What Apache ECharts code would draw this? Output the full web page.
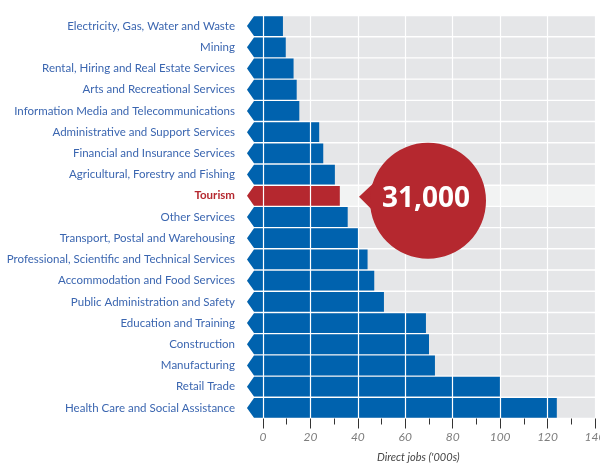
<!DOCTYPE html>
<html>
<head>
<meta charset="utf-8">
<script src="https://cdn.jsdelivr.net/npm/echarts@6/dist/echarts.min.js"></script>
<style>
  html, body { margin: 0; padding: 0; background: #ffffff; }
  #chart { width: 600px; height: 463px; }
</style>
</head>
<body>
<div id="chart"></div>
<script>
// ---- data ----
const categories = [
  'Electricity, Gas, Water and Waste',
  'Mining',
  'Rental, Hiring and Real Estate Services',
  'Arts and Recreational Services',
  'Information Media and Telecommunications',
  'Administrative and Support Services',
  'Financial and Insurance Services',
  'Agricultural, Forestry and Fishing',
  'Tourism',
  'Other Services',
  'Transport, Postal and Warehousing',
  'Professional, Scientific and Technical Services',
  'Accommodation and Food Services',
  'Public Administration and Safety',
  'Education and Training',
  'Construction',
  'Manufacturing',
  'Retail Trade',
  'Health Care and Social Assistance'
];
const values = [8.4, 9.6, 12.9, 14.2, 15.3, 23.7, 25.4, 30.3, 32.4, 35.7, 40.3, 44.1, 46.9, 51.0, 68.7, 70.0, 72.5, 100.0, 123.9];
const highlightCategory = 'Tourism';
const calloutText = '31,000';
const xTicks = [0, 20, 40, 60, 80, 100, 120, 140];
const axisTitle = "Direct jobs ('000s)";

// ---- style ----
const BLUE = '#0062ae';
const RED = '#b5282f';
const GRAY = '#e5e6e8';
const LIGHT = '#f2f3f3';
const LABEL_BLUE = '#3b66b0';
const X_MAX = xTicks[xTicks.length - 1];
const hiIndex = categories.indexOf(highlightCategory);

const chart = echarts.init(document.getElementById('chart'), null, { renderer: 'canvas' });

function renderBar(params, api) {
  const idx = api.value(0);
  const v = api.value(1);
  const p0 = api.coord([0, idx]);
  const pEnd = api.coord([v, idx]);
  const pMax = api.coord([X_MAX, idx]);
  const band = api.size([0, 1])[1];
  const h = band - 1.4;
  const cy = p0[1];
  const top = cy - h / 2, bot = cy + h / 2;
  const left = p0[0] - 9, tip = p0[0] - 16;
  const isHi = idx === hiIndex;
  return {
    type: 'group',
    children: [
      {
        type: 'polygon',
        shape: { points: [[tip, cy], [left, top], [pMax[0], top], [pMax[0], bot], [left, bot]] },
        style: { fill: isHi ? LIGHT : GRAY }
      },
      {
        type: 'polygon',
        shape: { points: [[tip, cy], [left, top], [pEnd[0], top], [pEnd[0], bot], [left, bot]] },
        style: { fill: isHi ? RED : BLUE }
      }
    ]
  };
}

function renderCallout(params, api) {
  const idx = api.value(0);
  const p = api.coord([70, idx]);
  const cx = p[0] - 1, cy = p[1] + 5, r = 58;
  const tipX = cx - 69, tipY = p[1] + 1;
  return {
    type: 'group',
    children: [
      { type: 'polygon', shape: { points: [[tipX, tipY], [cx - 53, cy - 19], [cx - 53, cy + 12]] }, style: { fill: RED } },
      { type: 'circle', shape: { cx: cx, cy: cy, r: r }, style: { fill: RED } },
      {
        type: 'text',
        x: cx - 2, y: cy - 2,
        style: {
          text: calloutText, fill: '#ffffff',
          font: 'bold 28px "Open Sans"',
          align: 'center', verticalAlign: 'middle'
        }
      }
    ]
  };
}

const option = {
  animation: false,
  grid: { left: 263, right: 5, top: 15.5, bottom: 44.5, outerBoundsMode: 'none', containLabel: false },
  xAxis: {
    type: 'value',
    min: 0, max: X_MAX, interval: 20,
    z: 3,
    axisLine: { show: false },
    axisTick: { show: true, length: 10, lineStyle: { color: '#333333', width: 1 } },
    minorTick: { show: true, splitNumber: 2, length: 6, lineStyle: { color: '#333333', width: 1 } },
    splitLine: { show: true, lineStyle: { color: '#ffffff', width: 1.2 } },
    axisLabel: {
      margin: 13, color: '#7d7d7d', fontSize: 12, fontStyle: 'italic',
      fontFamily: 'Lato'
    }
  },
  yAxis: {
    type: 'category',
    data: categories,
    inverse: true,
    axisLine: { show: false },
    axisTick: { show: false },
    splitLine: { show: false },
    axisLabel: {
      margin: 28, color: LABEL_BLUE, fontSize: 11.5, fontFamily: 'Lato',
      formatter: function (v) { return v === highlightCategory ? '{hi|' + v + '}' : v; },
      rich: { hi: { color: RED, fontWeight: 'bold', fontSize: 11.5, fontFamily: 'Lato' } }
    }
  },
  graphic: [
    {
      type: 'text', left: 377, top: 452,
      style: { text: axisTitle, fill: '#444444', font: 'italic 11px Lato' }
    }
  ],
  series: [
    {
      type: 'custom',
      z: 2,
      renderItem: renderBar,
      encode: { x: 1, y: 0 },
      data: values.map((v, i) => [i, v])
    },
    {
      type: 'custom',
      z: 10,
      renderItem: renderCallout,
      encode: { x: 1, y: 0 },
      data: [[hiIndex, values[hiIndex]]]
    }
  ]
};
chart.setOption(option);
</script>
</body>
</html>
